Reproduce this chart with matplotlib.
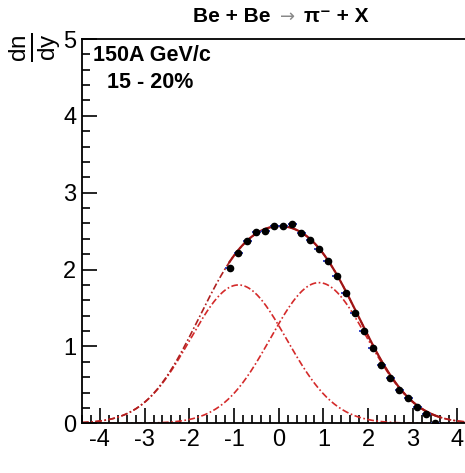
import numpy as np
import matplotlib
matplotlib.use("Agg")
import matplotlib.pyplot as plt
from matplotlib.ticker import MultipleLocator

plt.rcParams['font.family'] = ['Liberation Sans', 'DejaVu Sans']
plt.rcParams['mathtext.fontset'] = 'custom'
plt.rcParams['mathtext.rm'] = 'Liberation Sans'
plt.rcParams['mathtext.it'] = 'Liberation Sans'

# data points (rapidity, dn/dy)
rap = [-1.1, -0.9, -0.7, -0.5, -0.3, -0.1, 0.1, 0.3, 0.5, 0.7, 0.9, 1.1,
       1.3, 1.5, 1.7, 1.9, 2.1, 2.3, 2.5, 2.7, 2.9, 3.1, 3.3, 3.5]
dndy = [2.02, 2.22, 2.37, 2.49, 2.50, 2.57, 2.57, 2.59, 2.47, 2.39, 2.27, 2.11,
        1.91, 1.69, 1.44, 1.20, 0.98, 0.76, 0.59, 0.43, 0.33, 0.21, 0.12, 0.01]
rap_err = 0.1

# double gaussian fit parameters (amplitude, mean, sigma)
g1 = (1.80, -0.90, 1.08)
g2 = (1.83, 0.90, 1.08)

xlabels = ['-4', '-3', '-2', '-1', '0', '1', '2', '3', '4']


def gauss(x, p):
    return p[0] * np.exp(-(x - p[1]) ** 2 / (2 * p[2] ** 2))


fig = plt.figure(figsize=(4.65, 4.73), dpi=100)
ax = fig.add_axes([82 / 465, 1 - 423.3 / 473, 8.8 * 44.7 / 465, 384.3 / 473])

xx = np.linspace(-4.4, 4.4, 400)
dashdot = (0, (4, 1.5, 1, 1.5))
ax.plot(xx, gauss(xx, g1), color='#d42a2a', lw=1.2, ls=dashdot)
ax.plot(xx, gauss(xx, g2), color='#d42a2a', lw=1.2, ls=dashdot)
ax.plot(xx, gauss(xx, g1) + gauss(xx, g2), color='#b02020', lw=1.2, ls=dashdot)
xf = np.linspace(min(rap), 3.6, 200)
ax.plot(xf, gauss(xf, g1) + gauss(xf, g2), color='#a01515', lw=1.6)

ax.errorbar(rap, dndy, xerr=rap_err, fmt='o', color='black', ms=4.5,
            ecolor='#3444c4', elinewidth=1.4, capsize=0, zorder=5)

ax.set_xlim(-4.4, 4.4)
ax.set_ylim(0, 5)
ax.xaxis.set_minor_locator(MultipleLocator(0.2))
ax.yaxis.set_major_locator(MultipleLocator(1))
ax.yaxis.set_minor_locator(MultipleLocator(0.2))
ax.set_xticks(range(-4, 5))
ax.set_xticklabels(xlabels)
ax.tick_params(which='both', direction='in', top=False, right=False, labelsize=17, width=1.2)
ax.tick_params(which='major', length=11, pad=4)
ax.tick_params(which='minor', length=5.5)
for s in ax.spines.values():
    s.set_linewidth(1.3)

# title pieces: bold text with a thin grey arrow
ty = 1 - 17 / 473
fig.text(270 / 465, ty, "Be + Be", ha='right', va='center', fontsize=15, fontweight='bold')
fig.text(288 / 465, ty, "\u2192", ha='center', va='center', fontsize=13, color='#888888',
         family=['DejaVu Sans'])
fig.text(304 / 465, ty, "\u03c0\u207b + X", ha='left', va='center', fontsize=15, fontweight='bold',
         family=['Liberation Sans', 'DejaVu Sans'])

ax.text(-4.15, 4.78, "150A GeV/c", ha='left', va='center', fontsize=15.5, fontweight='bold')
ax.text(-3.85, 4.44, "15 - 20%", ha='left', va='center', fontsize=15.5, fontweight='bold')
fig.text(63 / 465, 1 - 33 / 473, r"$\frac{dn}{dy}$", rotation=90, ha='right', va='top', fontsize=25)

fig.savefig("out.png", dpi=100)
